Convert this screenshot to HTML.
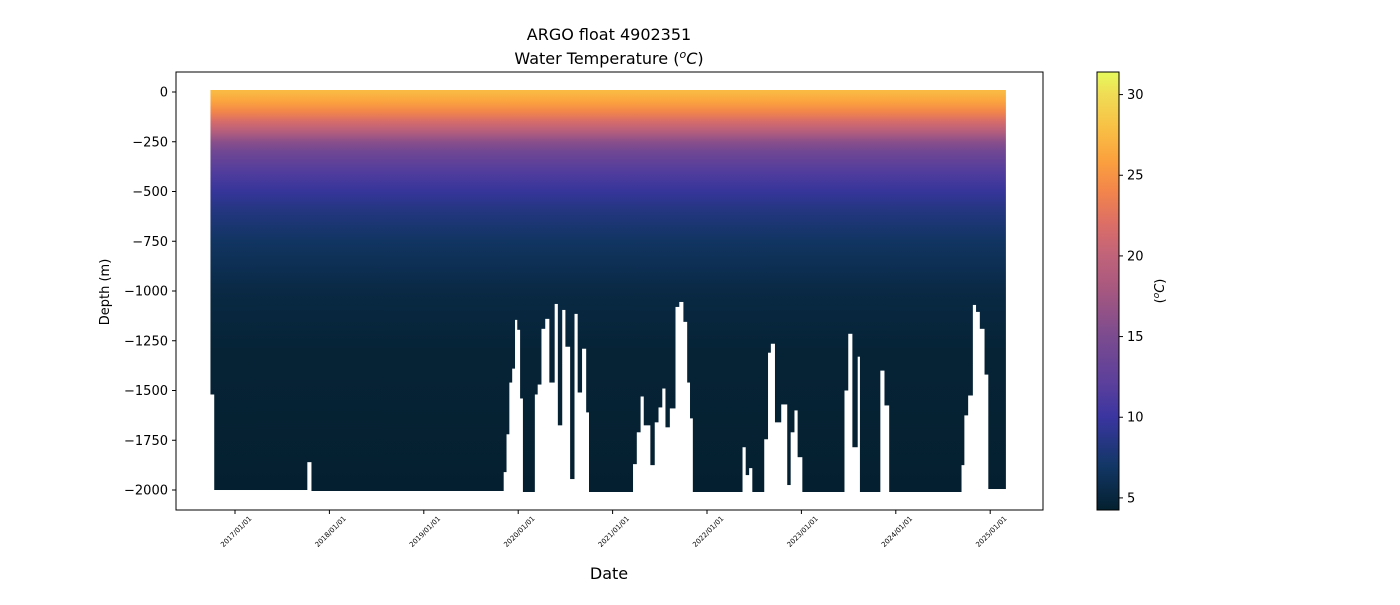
<!DOCTYPE html>
<html><head><meta charset="utf-8"><style>
body{margin:0;background:#fff;font-family:"Liberation Sans","DejaVu Sans",sans-serif}
svg text{font-family:"DejaVu Sans","Liberation Sans",sans-serif}
</style></head><body>
<svg id="chart" width="1400" height="600" xmlns="http://www.w3.org/2000/svg">
<defs>
<linearGradient id="profileGrad" gradientUnits="userSpaceOnUse" x1="0" y1="92" x2="0" y2="490"></linearGradient>
<linearGradient id="cbarGrad" x1="0" y1="1" x2="0" y2="0"></linearGradient>
<clipPath id="plotClip"><rect x="176" y="72" width="867" height="438"/></clipPath>
</defs>
<text x="609" y="40" text-anchor="middle" font-size="16">ARGO float 4902351</text>
<text x="609" y="64" text-anchor="middle" font-size="16">Water Temperature (<tspan font-style="italic" dy="-6" font-size="11">o</tspan><tspan font-style="italic" dy="6">C</tspan>)</text>
<g id="marks" clip-path="url(#plotClip)"></g>
<rect x="176" y="72" width="867" height="438" fill="none" stroke="#000" stroke-width="1"/>
<g id="yaxis"></g>
<g id="xaxis"></g>
<text transform="translate(109,292) rotate(-90)" text-anchor="middle" font-size="13">Depth (m)</text>
<text x="609" y="579" text-anchor="middle" font-size="16">Date</text>
<rect x="1097" y="72" width="22" height="438" fill="url(#cbarGrad)" stroke="#000" stroke-width="1"/>
<g id="cbaxis"></g>
<text transform="translate(1164,291) rotate(-90)" text-anchor="middle" font-size="13">(<tspan font-style="italic" dy="-5" font-size="9">o</tspan><tspan font-style="italic" dy="5">C</tspan>)</text>
</svg>
<script>
const runStart=[2016.74,2016.78,2017.76,2017.81,2019.84,2019.87,2019.90,2019.93,2019.96,2019.99,2020.02,2020.05,2020.17,2020.20,2020.24,2020.28,2020.33,2020.38,2020.42,2020.46,2020.50,2020.55,2020.59,2020.63,2020.67,2020.72,2020.75,2021.21,2021.25,2021.29,2021.33,2021.40,2021.44,2021.48,2021.52,2021.56,2021.60,2021.66,2021.70,2021.75,2021.79,2021.82,2021.85,2022.37,2022.41,2022.44,2022.48,2022.60,2022.64,2022.67,2022.72,2022.78,2022.85,2022.88,2022.92,2022.96,2023.01,2023.45,2023.49,2023.54,2023.59,2023.62,2023.83,2023.88,2023.93,2024.69,2024.72,2024.76,2024.81,2024.85,2024.89,2024.94,2024.98];
const runDepth=[-1510,-1990,-1850,-1995,-1900,-1710,-1450,-1380,-1135,-1185,-1530,-2000,-1510,-1460,-1180,-1130,-1450,-1055,-1665,-1085,-1270,-1935,-1105,-1500,-1280,-1600,-2000,-1860,-1700,-1520,-1665,-1865,-1650,-1575,-1480,-1675,-1580,-1070,-1045,-1145,-1450,-1630,-2000,-1775,-1915,-1880,-2000,-1735,-1300,-1255,-1650,-1560,-1965,-1700,-1590,-1825,-2000,-1490,-1205,-1775,-1320,-2000,-1390,-1565,-2000,-1865,-1615,-1515,-1060,-1095,-1180,-1410,-1985];
const dataEnd=2025.16;
const depthLevels=[0,-50,-100,-150,-200,-250,-300,-400,-500,-600,-750,-1000,-1300,-2000];
const tempLevels=[27.5,26,24,21.5,19,16,14,11.5,9.7,8.3,6.8,5.3,4.6,4.3];
const cmapT=[4.25,7,10,12,15,18,20,22,24,26,28,30,31.4];
const cmapC=["#04202f","#123766","#3a35a0","#5a3f9c","#7b4b8f","#a8587f","#c0637a","#dc6e66","#f2854b","#fba23e","#f8c145","#f0dc55","#e5fa5c"];
const yTicks=[0,-250,-500,-750,-1000,-1250,-1500,-1750,-2000];
const yTickLabels=["0","\u2212250","\u2212500","\u2212750","\u22121000","\u22121250","\u22121500","\u22121750","\u22122000"];
const xTicks=[2017,2018,2019,2020,2021,2022,2023,2024,2025];
const xTickLabels=["2017/01/01","2018/01/01","2019/01/01","2020/01/01","2021/01/01","2022/01/01","2023/01/01","2024/01/01","2025/01/01"];
const cbTicks=[5,10,15,20,25,30];
const NS="http://www.w3.org/2000/svg";
const tMin=4.25,tMax=31.4;
function xs(yr){return 235+(yr-2017)*94.4;}
function ys(d){return 92+(-d)*0.199;}
function cb(t){return 510-(t-tMin)/(tMax-tMin)*438;}
function mk(tag,attrs,parent){const e=document.createElementNS(NS,tag);for(const k in attrs)e.setAttribute(k,attrs[k]);parent.appendChild(e);return e;}
function tempColor(t){
  for(let i=0;i<cmapT.length-1;i++){if(t<=cmapT[i+1]){const f=Math.max(0,(t-cmapT[i])/(cmapT[i+1]-cmapT[i]));return mix(cmapC[i],cmapC[i+1],f);}}
  return cmapC[cmapC.length-1];
}
function mix(a,b,f){const pa=[1,3,5].map(i=>parseInt(a.substr(i,2),16)),pb=[1,3,5].map(i=>parseInt(b.substr(i,2),16));return "rgb("+pa.map((v,i)=>Math.round(v+(pb[i]-v)*f)).join(",")+")";}
const pg=document.getElementById('profileGrad');
depthLevels.forEach((d,i)=>{mk('stop',{offset:((-d)/2000).toFixed(4),'stop-color':tempColor(tempLevels[i])},pg);});
const cg=document.getElementById('cbarGrad');
cmapT.forEach((t,i)=>{mk('stop',{offset:((t-tMin)/(tMax-tMin)).toFixed(4),'stop-color':cmapC[i]},cg);});
const marks=document.getElementById('marks');
runStart.forEach((s,i)=>{
  const e=(i<runStart.length-1)?runStart[i+1]:dataEnd;
  const x0=xs(s),x1=xs(e);
  const r=mk('rect',{x:x0.toFixed(2),y:ys(0)-2,width:(x1-x0+0.6).toFixed(2),height:(ys(runDepth[i])-ys(0)+4).toFixed(2),fill:'url(#profileGrad)'},marks);
  
  
});
const ya=document.getElementById('yaxis');
yTicks.forEach((v,i)=>{
  const y=ys(v);
  const l=mk('line',{x1:172,x2:176,y1:y,y2:y,stroke:'#000'},ya);
  
  
  const t=mk('text',{x:168,y:y+4.5,'text-anchor':'end','font-size':'13'},ya);
  
  
  t.textContent=yTickLabels[i];
});
const xa=document.getElementById('xaxis');
xTicks.forEach((v,i)=>{
  const x=xs(v);
  const l=mk('line',{x1:x,x2:x,y1:510,y2:514,stroke:'#000'},xa);
  
  
  const t=mk('text',{transform:'translate('+(x+17)+',519) rotate(-45)','text-anchor':'end','font-size':'7'},xa);
  
  
  t.textContent=xTickLabels[i];
});
const ca=document.getElementById('cbaxis');
cbTicks.forEach(v=>{
  const y=cb(v);
  const l=mk('line',{x1:1119,x2:1123,y1:y,y2:y,stroke:'#000'},ca);
  
  
  const t=mk('text',{x:1127,y:y+4.5,'font-size':'13'},ca);
  
  
  t.textContent=String(v);
});
</script>
</body></html>
